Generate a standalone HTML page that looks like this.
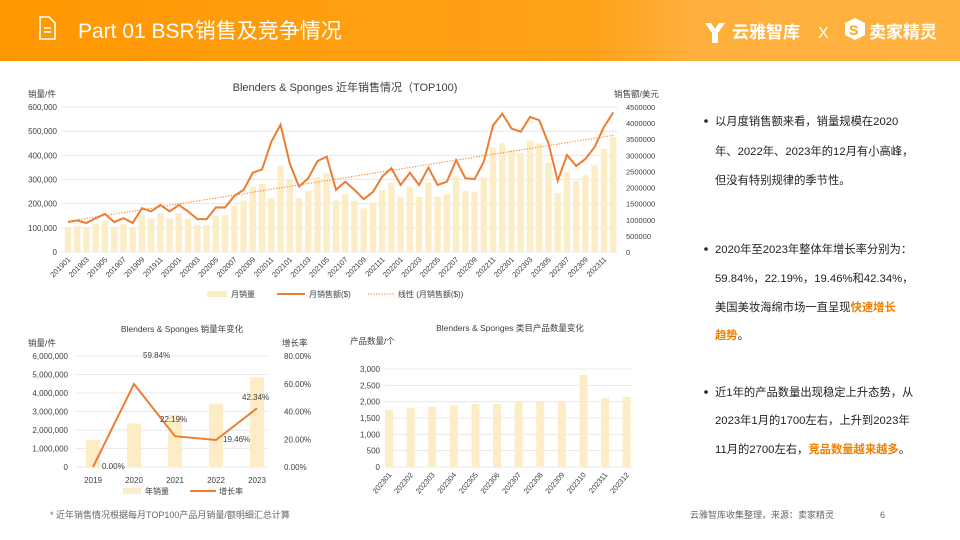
<!DOCTYPE html>
<html><head><meta charset="utf-8">
<style>
body{margin:0;width:960px;height:540px;overflow:hidden;background:#fff;font-family:"Liberation Sans","Noto Sans CJK SC",sans-serif;}
svg{position:absolute;left:0;top:0}
</style></head><body>
<svg id="s" width="960" height="540" xmlns="http://www.w3.org/2000/svg" font-family="Liberation Sans, Noto Sans CJK SC, sans-serif">
<defs><linearGradient id="hg" x1="0" x2="1" y1="0" y2="0"><stop offset="0" stop-color="#FF9800"/><stop offset="0.62" stop-color="#FFA21A"/><stop offset="0.72" stop-color="#FFB03C"/><stop offset="1" stop-color="#FFB23F"/></linearGradient></defs>
<rect x="0" y="0" width="960" height="61" fill="url(#hg)"/>
<g stroke="#fff" stroke-width="1.6" fill="none"><path d="M40 17 h9 l6 6 v16 h-15 z"/><path d="M44 28 h7 M44 32 h7"/></g>
<text x="78" y="38" fill="#fff" font-size="21">Part 01  BSR销售及竞争情况</text>
<path d="M705 23 l6 0 l4 6 l4 -6 l6 0 l-7 10 v10 h-6 v-10 z" fill="#fff"/>
<text x="732" y="38" fill="#fff" font-size="17" font-weight="bold">云雅智库</text>
<text x="818" y="38" fill="#fff" font-size="16">X</text>
<path d="M855 18 l10 5 v12 l-10 5 l-10 -5 v-12 z" fill="#fff"/>
<text x="849" y="35" fill="#FFA21A" font-size="14" font-weight="bold">S</text>
<text x="869" y="38" fill="#fff" font-size="17" font-weight="bold">卖家精灵</text>
<g id="c"></g>
</svg>
<script>
(function(){
const NS="http://www.w3.org/2000/svg",g=document.getElementById('c');
const BAR='#FDEDC6';
function el(t,a,txt){const e=document.createElementNS(NS,t);for(const k in a)e.setAttribute(k,a[k]);if(txt!=null)e.textContent=txt;g.appendChild(e);return e;}
function tx(x,y,s,o){o=o||{};return el('text',{x:x,y:y,'font-size':o.fs||8,fill:o.fill||'#404040','text-anchor':o.a||'start'},s);}
const sales=[0.93,0.98,0.90,1.05,1.18,0.93,1.05,0.90,1.36,1.26,1.46,1.26,1.46,1.26,1.02,1.02,1.38,1.38,1.74,1.93,2.46,2.56,3.42,3.95,2.75,2.03,2.29,2.82,2.96,1.93,2.18,1.93,1.64,1.86,2.34,2.60,2.08,2.46,2.08,2.62,2.08,2.18,2.85,2.29,2.26,2.80,3.93,4.29,3.83,3.73,4.19,4.09,3.37,2.21,3.01,2.67,2.89,3.26,3.88,4.33];
const vol=sales.map((v,i)=>v*(i==22?0.065:0.11)*1000);
vol[23]=356;vol[47]=450;
const y0=252,yTop=107,x0=68,st=9.24;
for(let i=0;i<=6;i++){const y=y0-i*(y0-yTop)/6;el('line',{x1:62,x2:618,y1:y,y2:y,stroke:'#e3e3e3','stroke-width':0.8});
tx(57,y+3,i==0?'0':(i*100)+',000',{a:'end'});}
for(let i=0;i<=9;i++){const y=y0-i*(y0-yTop)/9;tx(626,y+3,i==0?'0':String(i*500000),{fs:7.5});}
vol.forEach((v,i)=>{const h=v/600*(y0-yTop);el('rect',{x:x0+i*st-3.2,y:y0-h,width:6.4,height:h,fill:BAR});});
const sy=v=>y0-v/4.5*(y0-yTop);
el('line',{x1:x0,y1:sy(0.95),x2:x0+59*st,y2:sy(3.62),stroke:'#ED7D31','stroke-width':1,'stroke-dasharray':'1.2 1.5'});
el('polyline',{points:sales.map((v,i)=>(x0+i*st)+','+sy(v)).join(' '),fill:'none',stroke:'#ED7D31','stroke-width':2});
for(let i=0;i<60;i+=2){const x=x0+i*st,yy=2019+Math.floor(i/12),m=i%12+1;const t=tx(x+3,y0+8,yy+(m<10?'0':'')+m,{a:'end',fs:7.5});t.setAttribute('transform','rotate(-45 '+(x+3)+' '+(y0+8)+')');}
tx(345,91,'Blenders & Sponges 近年销售情况（TOP100)',{fs:11,a:'middle'});
tx(28,97,'销量/件',{fs:8.5});tx(614,97,'销售额/美元',{fs:8.5});
el('rect',{x:207,y:291,width:20,height:6,fill:BAR});tx(231,297,'月销量',{fs:8});
el('line',{x1:277,x2:305,y1:294,y2:294,stroke:'#ED7D31','stroke-width':2});tx(309,297,'月销售额($)',{fs:8});
el('line',{x1:368,x2:394,y1:294,y2:294,stroke:'#ED7D31','stroke-width':1,'stroke-dasharray':'1.2 1.5'});tx(398,297,'线性 (月销售额($))',{fs:8});
const b0=467,bt=356;
for(let i=0;i<=6;i++){const y=b0-i*(b0-bt)/6;el('line',{x1:75,x2:268,y1:y,y2:y,stroke:'#e3e3e3','stroke-width':0.8});tx(68,y+3,i==0?'0':i+',000,000',{a:'end'});}
for(let i=0;i<=4;i++){const y=b0-i*(b0-bt)/4;tx(284,y+3,(i*20).toFixed(2)+'%',{});}
const yv=[1.47,2.35,2.82,3.42,4.85],gr=[0,59.84,22.19,19.46,42.34];
yv.forEach((v,i)=>{const x=93+i*41,h=v/6*(b0-bt);el('rect',{x:x-7,y:b0-h,width:14,height:h,fill:BAR});tx(x,b0+16,String(2019+i),{a:'middle'});});
const gy=v=>b0-v/80*(b0-bt);
el('polyline',{points:gr.map((v,i)=>(93+i*41)+','+gy(v)).join(' '),fill:'none',stroke:'#ED7D31','stroke-width':2});
tx(102,469,'0.00%');tx(143,358,'59.84%');tx(160,422,'22.19%');tx(223,442,'19.46%');tx(242,400,'42.34%');
tx(182,332,'Blenders & Sponges 销量年变化',{fs:8.5,a:'middle'});tx(28,346,'销量/件',{fs:8.5});tx(282,346,'增长率',{fs:8.5});
el('rect',{x:123,y:488,width:18,height:6,fill:BAR});tx(145,494,'年销量',{fs:8});
el('line',{x1:190,x2:216,y1:491,y2:491,stroke:'#ED7D31','stroke-width':2});tx(219,494,'增长率',{fs:8});
const c0=467,ct=369;
const fmt=n=>n>=1000?Math.floor(n/1000)+','+String(n%1000).padStart(3,'0'):String(n);
for(let i=0;i<=6;i++){const y=c0-i*(c0-ct)/6;el('line',{x1:385,x2:632,y1:y,y2:y,stroke:'#e3e3e3','stroke-width':0.8});tx(380,y+3,fmt(i*500),{a:'end'});}
const pc=[1750,1810,1840,1890,1920,1930,1990,1990,1990,2820,2110,2150];
pc.forEach((v,i)=>{const x=389+i*21.6,h=v/3000*(c0-ct);el('rect',{x:x-4,y:c0-h,width:8,height:h,fill:BAR});const lab='2023'+(i<9?'0':'')+(i+1);const t=tx(x+3,c0+8,lab,{a:'end',fs:7.5});t.setAttribute('transform','rotate(-50 '+(x+3)+' '+(c0+8)+')');});
tx(510,331,'Blenders & Sponges 类目产品数量变化',{fs:8.5,a:'middle'});tx(350,344,'产品数量/个',{fs:8.5});
const L=[[125,'以月度销售额来看，销量规模在2020',1],[155,'年、2022年、2023年的12月有小高峰，'],[184,'但没有特别规律的季节性。'],
[253,'2020年至2023年整体年增长率分别为：',1],[282,'59.84%，22.19%，19.46%和42.34%，'],[311,'美国美妆海绵市场一直呈现<b>快速增长</b>'],[339,'<b>趋势</b>。'],
[396,'近1年的产品数量出现稳定上升态势，从',1],[424,'2023年1月的1700左右，上升到2023年'],[453,'11月的2700左右，<b>竞品数量越来越多</b>。']];
L.forEach(([y,s,b])=>{if(b)el('circle',{cx:706,cy:y-4,r:1.8,fill:'#222'});const t=tx(715,y,'',{fs:11.3,fill:'#222'});
s.split(/(<b>.*?<\/b>)/).forEach(p=>{if(!p)return;const ts=document.createElementNS(NS,'tspan');if(p.startsWith('<b>')){ts.setAttribute('fill','#F07F00');ts.setAttribute('font-weight','bold');p=p.slice(3,-4);}ts.textContent=p;t.appendChild(ts);});});
tx(50,518,'* 近年销售情况根据每月TOP100产品月销量/额明细汇总计算',{fs:9,fill:'#666'});
tx(690,518,'云雅智库收集整理，来源：卖家精灵',{fs:9,fill:'#666'});tx(880,518,'6',{fs:9,fill:'#666'});
})();
</script>
</body></html>
